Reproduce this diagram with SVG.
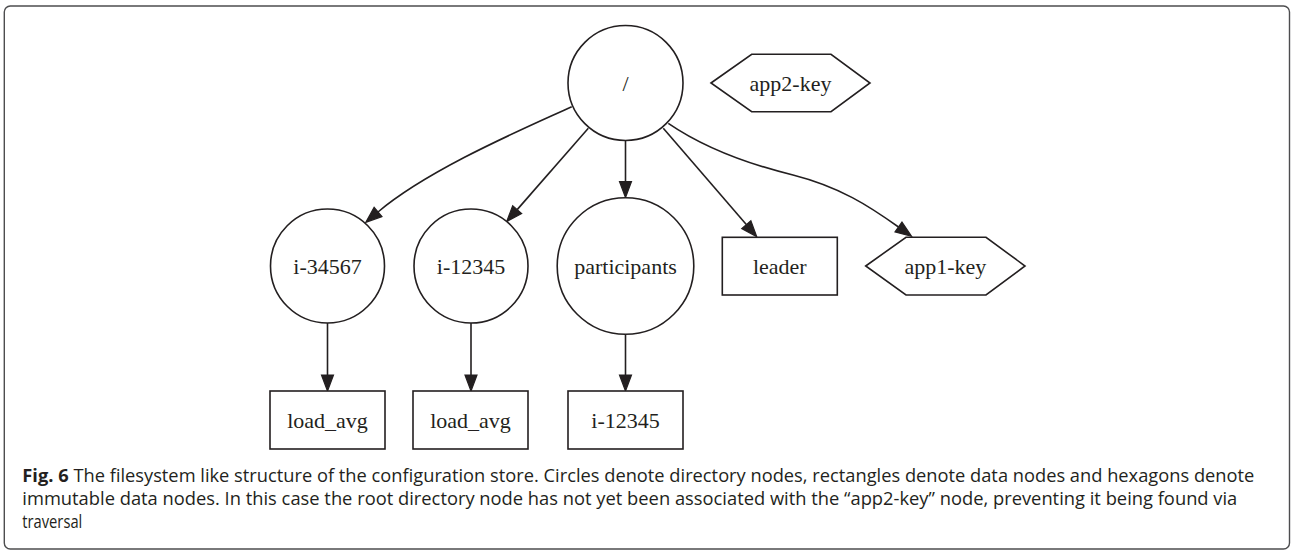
<svg xmlns="http://www.w3.org/2000/svg" width="1291" height="550" viewBox="0 0 1291 550">
  <style>
    .shape { fill: #ffffff; stroke: #231f20; stroke-width: 1.6; }
    .edge { fill: none; stroke: #231f20; stroke-width: 1.6; }
    .label { font-family: "Liberation Serif", "Times New Roman", serif; font-size: 22px; fill: #231f20; text-anchor: middle; }
    .caption { font-family: "Open Sans", "Liberation Sans", sans-serif; font-size: 18px; fill: #231f20; }
    .frame { fill: none; stroke: #4d4d4f; stroke-width: 1.4; }
  </style>
  <defs>
    <marker id="arrow" markerUnits="userSpaceOnUse" markerWidth="18" markerHeight="14" refX="0" refY="7" orient="auto" overflow="visible">
      <path d="M0,1 L16,7 L0,13 Z" fill="#231f20" stroke="#231f20" stroke-width="1.2"/>
    </marker>
  </defs>

  <!-- outer frame -->
  <rect class="frame" x="4.3" y="6" width="1285.2" height="543" rx="6" ry="6"/>

  <!-- connectors -->
  <g id="edges">
    <path class="edge" d="M571.7,106.7 C530,126 430,168 378,212" marker-end="url(#arrow)"/>
    <path class="edge" d="M588.3,128.3 L517.2,209.6" marker-end="url(#arrow)"/>
    <path class="edge" d="M625.5,140.5 L625.5,181.5" marker-end="url(#arrow)"/>
    <path class="edge" d="M663.3,128.3 L746.3,224.6" marker-end="url(#arrow)"/>
    <path class="edge" d="M668.3,123.3 C700,145 740,162 793,175 C840,187 869,206 898.5,227" marker-end="url(#arrow)"/>
    <path class="edge" d="M327.5,323 L327.5,375" marker-end="url(#arrow)"/>
    <path class="edge" d="M471,323 L471,375" marker-end="url(#arrow)"/>
    <path class="edge" d="M625.5,334.3 L625.5,375" marker-end="url(#arrow)"/>
  </g>

  <!-- directory nodes -->
  <g id="root">
    <circle class="shape" cx="625.5" cy="83" r="57.5"/>
    <text class="label" x="625.5" y="90.5">/</text>
  </g>
  <g id="dir-i-34567">
    <circle class="shape" cx="327.5" cy="266" r="57"/>
    <text class="label" x="327.5" y="273.5">i-34567</text>
  </g>
  <g id="dir-i-12345">
    <circle class="shape" cx="471" cy="266" r="57"/>
    <text class="label" x="471" y="273.5">i-12345</text>
  </g>
  <g id="dir-participants">
    <circle class="shape" cx="625.5" cy="266" r="68.3"/>
    <text class="label" x="625.5" y="273.5">participants</text>
  </g>

  <!-- data nodes -->
  <g id="data-leader">
    <rect class="shape" x="722.3" y="237.3" width="115" height="57.7"/>
    <text class="label" x="779.8" y="273.5">leader</text>
  </g>
  <g id="data-load-avg-1">
    <rect class="shape" x="270" y="391" width="115" height="58"/>
    <text class="label" x="327.5" y="427.5">load_avg</text>
  </g>
  <g id="data-load-avg-2">
    <rect class="shape" x="413" y="391" width="115" height="58"/>
    <text class="label" x="470.5" y="427.5">load_avg</text>
  </g>
  <g id="data-participant">
    <rect class="shape" x="568" y="391" width="115" height="58"/>
    <text class="label" x="625.5" y="427.5">i-12345</text>
  </g>

  <!-- immutable data nodes -->
  <g id="imm-app1-key">
    <polygon class="shape" points="865.7,266 906,237.3 986,237.3 1025,266 986,295 906,295"/>
    <text class="label" x="945.4" y="273.5">app1-key</text>
  </g>
  <g id="imm-app2-key">
    <polygon class="shape" points="711,83 751.7,54.3 831,54.3 870,83 831,111.7 751.7,111.7"/>
    <text class="label" x="790.5" y="90.5">app2-key</text>
  </g>

  <!-- caption -->
  <g id="caption">
    <text class="caption" x="22.3" y="481.5" textLength="1232" lengthAdjust="spacingAndGlyphs"><tspan font-weight="bold">Fig. 6</tspan> The filesystem like structure of the configuration store. Circles denote directory nodes, rectangles denote data nodes and hexagons denote</text>
    <text class="caption" x="22.3" y="504.5" textLength="1215" lengthAdjust="spacingAndGlyphs">immutable data nodes. In this case the root directory node has not yet been associated with the “app2-key” node, preventing it being found via</text>
    <text class="caption" x="22.3" y="527.5" textLength="60" lengthAdjust="spacingAndGlyphs">traversal</text>
  </g>
</svg>
